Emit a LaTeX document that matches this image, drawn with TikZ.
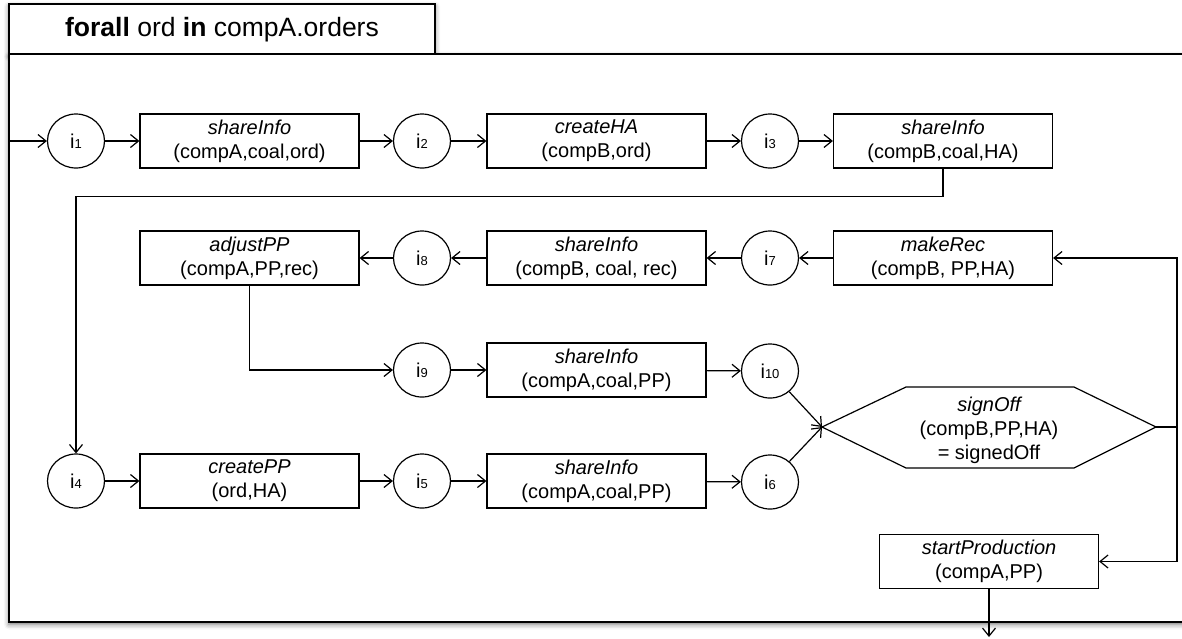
\documentclass[tikz,border=0pt]{standalone}
\usepackage{fontspec}
\setmainfont{Liberation Sans}
\usetikzlibrary{arrows.meta,shapes.geometric,shadows.blur}
\newcommand\ilab[1]{i{\fontsize{13}{13}\selectfont #1}}
\tikzset{
  box/.style={draw, line width=1.2pt, rectangle, minimum width=219pt, minimum height=54pt,
    inner sep=0pt, align=center, font=\fontsize{20}{24}\selectfont, fill=white},
  place/.style={draw, line width=1.2pt, ellipse, minimum width=57pt, minimum height=54pt,
    inner sep=0pt, font=\fontsize{20}{24}\selectfont, fill=white},
  arr/.style={line width=1.2pt, -{Straight Barb[length=8pt,width=13pt,line width=1.2pt]}},
  conn/.style={line width=1.2pt},
  frame/.style={fill=white, draw=black, line width=1.6pt},
  shad/.style={blur shadow={shadow xshift=0pt, shadow yshift=-2.5pt, shadow blur radius=5pt, shadow opacity=55}},
}
\begin{document}
\begin{tikzpicture}[x=1pt,y=-1pt]
\useasboundingbox (0,0) rectangle (1182,638);
\clip (0,0) rectangle (1182,638);
% frame
\path[frame, shad] (9,4) rectangle (435,54);
\path[frame, shad] (9,54) rectangle (1205,622);
\path[frame] (9,4) rectangle (435,54);
\node[font=\fontsize{26.5}{30}\selectfont] (title) at (222,30) {{\bfseries forall} ord {\bfseries in} compA.orders};

% row 1
\coordinate (entry) at (9,141);
\node[place] (i1) at (76,141) {\ilab{1}};
\node[box] (s1) at (249.5,141) {\itshape shareInfo\\(compA,coal,ord)};
\node[place] (i2) at (422,141) {\ilab{2}};
\node[box] (ha) at (596.5,141) {\itshape createHA\\(compB,ord)};
\node[place] (i3) at (770,141) {\ilab{3}};
\node[box] (s2) at (943,141) {\itshape shareInfo\\(compB,coal,HA)};

% row 2
\node[box] (adj) at (249.5,258) {\itshape adjustPP\\(compA,PP,rec)};
\node[place] (i8) at (422,258) {\ilab{8}};
\node[box] (s5) at (596.5,258) {\itshape shareInfo\\(compB, coal, rec)};
\node[place] (i7) at (770,258) {\ilab{7}};
\node[box] (mk) at (943,258) {\itshape makeRec\\(compB, PP,HA)};

% row 3
\node[place] (i9) at (422,370) {\ilab{9}};
\node[box] (s6) at (596.5,370) {\itshape shareInfo\\(compA,coal,PP)};
\node[place] (i10) at (770,371) {\ilab{10}};

% row 4
\node[place] (i4) at (76,481) {\ilab{4}};
\node[box] (pp) at (249.5,481) {\itshape createPP\\(ord,HA)};
\node[place] (i5) at (422,481) {\ilab{5}};
\node[box] (s4) at (596.5,481) {\itshape shareInfo\\(compA,coal,PP)};
\node[place] (i6) at (770,482) {\ilab{6}};

% signOff hexagon
\coordinate (soW) at (822,427);
\coordinate (soE) at (1156,427);
\draw[line width=1.2pt] (soW) -- (906,387) -- (1074,387) -- (soE) -- (1074,468) -- (906,468) -- cycle;
\node[align=center, font=\fontsize{20}{24}\selectfont] (so) at (989,430) {\itshape signOff\\(compB,PP,HA)\\= signedOff};

% startProduction
\node[box] (sp) at (989,561.5) {\itshape startProduction\\(compA,PP)};
\coordinate (J) at (1177,427);
\coordinate (out) at (989,637);

% connectors
\draw[arr] (entry) -- (i1);
\draw[arr] (i1) -- (s1);
\draw[arr] (s1) -- (i2);
\draw[arr] (i2) -- (ha);
\draw[arr] (ha) -- (i3);
\draw[arr] (i3) -- (s2);
\draw[arr] (s2.south) -- ++(0,28) -| (i4.north);
\draw[arr] (mk) -- (i7);
\draw[arr] (i7) -- (s5);
\draw[arr] (s5) -- (i8);
\draw[arr] (i8) -- (adj);
\draw[arr] (adj.south) |- (i9.west);
\draw[arr] (i9) -- (s6);
\draw[arr] (s6) -- (i10);
\draw[arr] (i4) -- (pp);
\draw[arr] (pp) -- (i5);
\draw[arr] (i5) -- (s4);
\draw[arr] (s4) -- (i6);
\draw[arr] (i10) -- (soW);
\draw[arr] (i6) -- (soW);
\draw[conn] (soE) -- (J);
\draw[arr] (J) |- (mk.east);
\draw[arr] (J) |- (sp.east);
\draw[arr] (sp.south) -- (out);
\end{tikzpicture}
\end{document}
